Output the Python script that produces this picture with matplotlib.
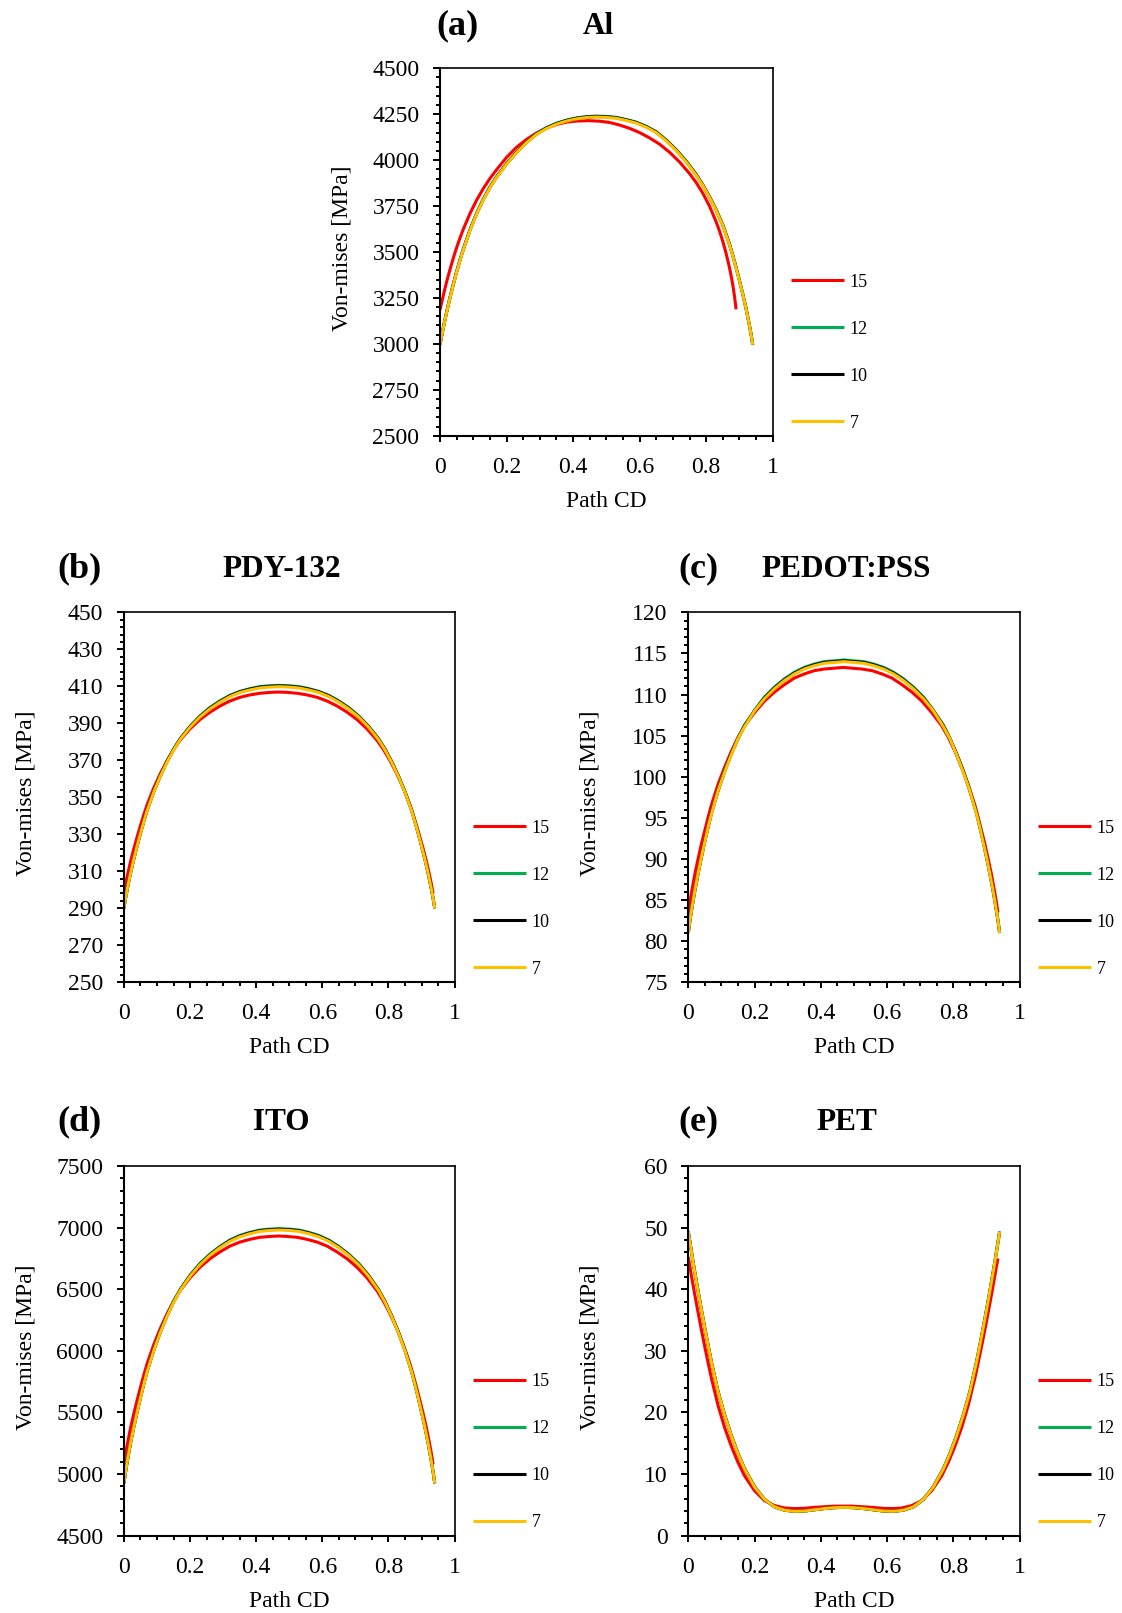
import matplotlib
matplotlib.use("Agg")
import matplotlib.pyplot as plt
from matplotlib.ticker import MultipleLocator, FuncFormatter

plt.rcParams['font.family'] = ['Liberation Serif', 'DejaVu Serif']

# ---------------------------------------------------------------- data
SERIES_LABELS = ['15', '12', '10', '7']
SERIES_COLORS = ['#FF0000', '#00B050', '#000000', '#FFC000']

# positions along path CD
X_FULL = [0, 0.005, 0.01, 0.015, 0.02, 0.03, 0.04, 0.05, 0.06, 0.07, 0.09, 0.11, 0.13, 0.15,
          0.17, 0.20, 0.23, 0.26, 0.29, 0.32, 0.35, 0.38, 0.41, 0.44, 0.47,
          0.50, 0.53, 0.56, 0.59, 0.62, 0.65, 0.68, 0.71, 0.74, 0.77, 0.79, 0.81, 0.83,
          0.85, 0.87, 0.88, 0.89, 0.90, 0.91, 0.92, 0.925, 0.93, 0.935, 0.94]
X_15 = [0, 0.005, 0.01, 0.015, 0.02, 0.03, 0.04, 0.05, 0.06, 0.07, 0.09, 0.11, 0.13, 0.15,
        0.17, 0.20, 0.23, 0.26, 0.29, 0.32, 0.35, 0.38, 0.41, 0.44, 0.4675,
        0.495, 0.525, 0.555, 0.585, 0.615, 0.645, 0.675, 0.705, 0.735, 0.765, 0.785, 0.805,
        0.825, 0.845, 0.865, 0.875, 0.885, 0.895, 0.905, 0.915, 0.92, 0.925, 0.93, 0.935]
AL_X_15 = [0, 0.005, 0.01, 0.015, 0.02, 0.03, 0.04, 0.05, 0.06, 0.07, 0.09, 0.11, 0.13, 0.15,
           0.17, 0.20, 0.23, 0.26, 0.29, 0.32, 0.35, 0.38, 0.41, 0.445,
           0.48, 0.51, 0.54, 0.57, 0.60, 0.63, 0.66, 0.69, 0.72, 0.75, 0.77, 0.79, 0.81,
           0.83, 0.84, 0.85, 0.86, 0.865, 0.87, 0.875, 0.88, 0.885, 0.89]

# (a) Al
AL_15 = [3184, 3225, 3264, 3302, 3338, 3405, 3467, 3524, 3576, 3624, 3709, 3782, 3845, 3900,
         3948, 4015, 4070, 4113, 4148, 4175, 4194, 4207, 4213, 4215,
         4212, 4205, 4191, 4173, 4150, 4121, 4087, 4043, 3990, 3927, 3878, 3820, 3750,
         3664, 3615, 3558, 3492, 3455, 3415, 3371, 3322, 3262, 3188]
AL_12 = [2995, 3043, 3088, 3132, 3174, 3253, 3325, 3393, 3457, 3516, 3621, 3711, 3788, 3854,
         3910, 3982, 4044, 4099, 4144, 4177, 4201, 4218, 4230, 4237, 4240,
         4238, 4233, 4221, 4207, 4184, 4155, 4110, 4057, 3995, 3923, 3866, 3802, 3731,
         3648, 3545, 3482, 3416, 3346, 3272, 3193, 3147, 3101, 3052, 2995]
AL_10 = [2995, 3042, 3088, 3131, 3173, 3252, 3324, 3392, 3455, 3514, 3619, 3709, 3786, 3852,
         3908, 3980, 4042, 4097, 4142, 4175, 4199, 4216, 4228, 4235, 4238,
         4236, 4231, 4219, 4205, 4182, 4153, 4108, 4055, 3993, 3921, 3864, 3800, 3729,
         3646, 3543, 3481, 3415, 3345, 3271, 3192, 3147, 3101, 3052, 2995]
AL_7 = [2995, 3042, 3087, 3130, 3172, 3250, 3322, 3390, 3453, 3512, 3617, 3707, 3784, 3850,
        3906, 3978, 4040, 4095, 4140, 4172, 4196, 4213, 4225, 4232, 4235,
        4233, 4228, 4216, 4202, 4179, 4150, 4105, 4052, 3990, 3918, 3862, 3798, 3727,
        3644, 3541, 3479, 3413, 3343, 3270, 3191, 3146, 3100, 3051, 2995]

# (b) PDY-132
PDY_15 = [298, 302.9, 307.3, 311.3, 315.2, 322.2, 328.6, 334.7, 340.5, 345.9, 355.0, 362.8, 369.7,
          375.8, 380.9, 387.0, 392.0, 396.0, 399.3, 402.0, 404.0, 405.3, 406.2, 406.7, 406.9,
          406.7, 406.2, 405.3, 404.0, 402.0, 399.3, 396.0, 392.0, 387.0, 380.9, 375.8, 369.7,
          362.8, 355.0, 345.9, 340.5, 334.7, 328.6, 322.2, 315.2, 311.3, 307.3, 302.9, 298]
PDY_12 = [290, 295.4, 300.2, 304.7, 309.0, 316.8, 323.9, 330.6, 337.0, 343.0, 353.0, 361.7, 369.3,
          376.0, 381.7, 388.4, 394.0, 398.5, 402.1, 405.1, 407.2, 408.7, 409.8, 410.3, 410.5,
          410.3, 409.8, 408.7, 407.2, 405.1, 402.1, 398.5, 394.0, 388.4, 381.7, 376.0, 369.3,
          361.7, 353.0, 343.0, 337.0, 330.6, 323.9, 316.8, 309.0, 304.7, 300.2, 295.4, 290]
PDY_10 = [290, 295.4, 300.2, 304.7, 309.0, 316.7, 323.8, 330.5, 336.9, 342.9, 352.9, 361.5, 369.1,
          375.8, 381.5, 388.2, 393.7, 398.2, 401.8, 404.8, 407.0, 408.4, 409.5, 410.0, 410.2,
          410.0, 409.5, 408.4, 407.0, 404.8, 401.8, 398.2, 393.7, 388.2, 381.5, 375.8, 369.1,
          361.5, 352.9, 342.9, 336.9, 330.5, 323.8, 316.7, 309.0, 304.7, 300.2, 295.4, 290]
PDY_7 = [290, 295.4, 300.2, 304.6, 308.9, 316.6, 323.7, 330.4, 336.7, 342.7, 352.7, 361.3, 368.8,
         375.5, 381.2, 387.9, 393.4, 397.8, 401.4, 404.4, 406.6, 408.0, 409.1, 409.6, 409.8,
         409.6, 409.1, 408.0, 406.6, 404.4, 401.4, 397.8, 393.4, 387.9, 381.2, 375.5, 368.8,
         361.3, 352.7, 342.7, 336.7, 330.4, 323.7, 316.6, 308.9, 304.6, 300.2, 295.4, 290]

# (c) PEDOT:PSS
PEDOT_15 = [83.5, 84.8, 86.0, 87.1, 88.2, 90.1, 91.9, 93.5, 95.1, 96.6, 99.1, 101.2, 103.1,
            104.8, 106.2, 107.8, 109.2, 110.3, 111.2, 112.0, 112.5, 112.9, 113.1, 113.2, 113.3,
            113.2, 113.1, 112.9, 112.5, 112.0, 111.2, 110.3, 109.2, 107.8, 106.2, 104.8, 103.1,
            101.2, 99.1, 96.6, 95.1, 93.5, 91.9, 90.1, 88.2, 87.1, 86.0, 84.8, 83.5]
PEDOT_12 = [81, 82.5, 83.8, 85.1, 86.2, 88.4, 90.3, 92.2, 94.0, 95.6, 98.4, 100.8, 102.8,
            104.7, 106.3, 108.1, 109.7, 110.9, 111.9, 112.7, 113.3, 113.7, 114.0, 114.1, 114.2,
            114.1, 114.0, 113.7, 113.3, 112.7, 111.9, 110.9, 109.7, 108.1, 106.3, 104.7, 102.8,
            100.8, 98.4, 95.6, 94.0, 92.2, 90.3, 88.4, 86.2, 85.1, 83.8, 82.5, 81]
PEDOT_10 = [81, 82.5, 83.8, 85.0, 86.2, 88.3, 90.3, 92.2, 93.9, 95.6, 98.3, 100.7, 102.8,
            104.6, 106.2, 108.0, 109.6, 110.8, 111.8, 112.6, 113.2, 113.6, 113.9, 114.0, 114.1,
            114.0, 113.9, 113.6, 113.2, 112.6, 111.8, 110.8, 109.6, 108.0, 106.2, 104.6, 102.8,
            100.7, 98.3, 95.6, 93.9, 92.2, 90.3, 88.3, 86.2, 85.0, 83.8, 82.5, 81]
PEDOT_7 = [81, 82.5, 83.8, 85.0, 86.2, 88.3, 90.3, 92.1, 93.9, 95.5, 98.3, 100.6, 102.7,
           104.6, 106.1, 108.0, 109.5, 110.7, 111.7, 112.5, 113.1, 113.5, 113.8, 113.9, 114.0,
           113.9, 113.8, 113.5, 113.1, 112.5, 111.7, 110.7, 109.5, 108.0, 106.1, 104.6, 102.7,
           100.6, 98.3, 95.5, 93.9, 92.1, 90.3, 88.3, 86.2, 85.0, 83.8, 82.5, 81]

# (d) ITO
ITO_15 = [5080, 5163, 5237, 5306, 5373, 5491, 5600, 5704, 5802, 5895, 6049, 6182, 6299,
          6402, 6489, 6593, 6678, 6747, 6802, 6849, 6882, 6904, 6921, 6928, 6932,
          6928, 6921, 6904, 6882, 6849, 6802, 6747, 6678, 6593, 6489, 6402, 6299,
          6182, 6049, 5895, 5802, 5704, 5600, 5491, 5373, 5306, 5237, 5163, 5080]
ITO_12 = [4925, 5018, 5101, 5177, 5252, 5384, 5506, 5622, 5731, 5834, 6006, 6155, 6285,
          6401, 6498, 6614, 6709, 6785, 6847, 6899, 6936, 6961, 6980, 6988, 6992,
          6988, 6980, 6961, 6936, 6899, 6847, 6785, 6709, 6614, 6498, 6401, 6285,
          6155, 6006, 5834, 5731, 5622, 5506, 5384, 5252, 5177, 5101, 5018, 4925]
ITO_10 = [4925, 5018, 5100, 5176, 5251, 5383, 5504, 5620, 5729, 5832, 6003, 6152, 6282,
          6397, 6494, 6610, 6704, 6780, 6842, 6894, 6931, 6956, 6975, 6983, 6987,
          6983, 6975, 6956, 6931, 6894, 6842, 6780, 6704, 6610, 6494, 6397, 6282,
          6152, 6003, 5832, 5729, 5620, 5504, 5383, 5251, 5176, 5100, 5018, 4925]
ITO_7 = [4925, 5017, 5100, 5176, 5250, 5381, 5503, 5618, 5727, 5830, 6000, 6148, 6278,
         6393, 6490, 6605, 6699, 6775, 6837, 6888, 6925, 6950, 6969, 6977, 6981,
         6977, 6969, 6950, 6925, 6888, 6837, 6775, 6699, 6605, 6490, 6393, 6278,
         6148, 6000, 5830, 5727, 5618, 5503, 5381, 5250, 5176, 5100, 5017, 4925]

# (e) PET
PET_15 = [45.2, 43.6, 42.0, 40.5, 39.0, 36.1, 33.3, 30.6, 28.0, 25.5, 21.1, 17.5, 14.5,
          11.9, 9.7, 7.3, 5.7, 4.9, 4.5, 4.4, 4.45, 4.6, 4.7, 4.8, 4.8,
          4.8, 4.7, 4.6, 4.45, 4.4, 4.5, 4.9, 5.7, 7.3, 9.7, 11.9, 14.5,
          17.5, 21.1, 25.5, 28.0, 30.6, 33.3, 36.1, 39.0, 40.5, 42.0, 43.6, 45.0]
PET_12 = [49.4, 47.7, 46.0, 44.3, 42.7, 39.6, 36.6, 33.7, 30.9, 28.2, 23.4, 19.6, 16.3,
          13.4, 10.9, 8.0, 5.9, 4.7, 4.15, 3.95, 4.0, 4.2, 4.4, 4.55, 4.6,
          4.55, 4.4, 4.2, 4.0, 3.95, 4.15, 4.7, 5.9, 8.0, 10.9, 13.4, 16.3,
          19.6, 23.4, 28.2, 30.9, 33.7, 36.6, 39.6, 42.7, 44.3, 46.0, 47.7, 49.4]
PET_10 = [49.3, 47.6, 45.9, 44.2, 42.6, 39.5, 36.5, 33.6, 30.8, 28.1, 23.3, 19.5, 16.2,
          13.3, 10.8, 7.9, 5.9, 4.7, 4.15, 3.95, 4.0, 4.2, 4.4, 4.55, 4.6,
          4.55, 4.4, 4.2, 4.0, 3.95, 4.15, 4.7, 5.9, 7.9, 10.8, 13.3, 16.2,
          19.5, 23.3, 28.1, 30.8, 33.6, 36.5, 39.5, 42.6, 44.2, 45.9, 47.6, 49.3]
PET_7 = [49.3, 47.6, 45.9, 44.2, 42.6, 39.5, 36.5, 33.6, 30.8, 28.1, 23.3, 19.5, 16.2,
         13.3, 10.8, 7.9, 5.9, 4.7, 4.15, 3.95, 4.0, 4.2, 4.4, 4.55, 4.6,
         4.55, 4.4, 4.2, 4.0, 3.95, 4.15, 4.7, 5.9, 7.9, 10.8, 13.3, 16.2,
         19.5, 23.3, 28.1, 30.8, 33.6, 36.5, 39.5, 42.6, 44.2, 45.9, 47.6, 49.3]

PANEL_TAGS = ['(a)', '(b)', '(c)', '(d)', '(e)']
PANEL_TITLES = ['Al', 'PDY-132', 'PEDOT:PSS', 'ITO', 'PET']
Y_LIMITS = [(2500, 4500), (250, 450), (75, 120), (4500, 7500), (0, 60)]
Y_MAJOR = [250, 20, 5, 500, 10]
Y_MINOR = [50, 4, 1, 100, 2]

# ---------------------------------------------------------------- layout
W, H = 1122, 1613
fig = plt.figure(figsize=(W / 100, H / 100), dpi=100)


def px_box(left, top, right, bottom):
    return [left / W, 1 - bottom / H, (right - left) / W, (bottom - top) / H]


AXES_PX = [
    (440.0, 68.3, 772.7, 435.7),
    (123.9, 612.3, 454.6, 982.3),
    (688.3, 612.3, 1019.5, 982.3),
    (123.9, 1166.0, 454.6, 1535.7),
    (688.3, 1166.0, 1019.5, 1535.7),
]
# (tag x, title x, baseline y) in pixels
HEADER_PX = [
    (457.5, 598.0, 34.0),
    (79.5, 281.6, 577.0),
    (698.0, 846.0, 577.0),
    (79.5, 281.4, 1130.0),
    (698.0, 846.5, 1130.0),
]

panel_series = [
    ([AL_X_15, X_FULL, X_FULL, X_FULL], [AL_15, AL_12, AL_10, AL_7]),
    ([X_15, X_FULL, X_FULL, X_FULL], [PDY_15, PDY_12, PDY_10, PDY_7]),
    ([X_15, X_FULL, X_FULL, X_FULL], [PEDOT_15, PEDOT_12, PEDOT_10, PEDOT_7]),
    ([X_15, X_FULL, X_FULL, X_FULL], [ITO_15, ITO_12, ITO_10, ITO_7]),
    ([X_15, X_FULL, X_FULL, X_FULL], [PET_15, PET_12, PET_10, PET_7]),
]

fmt = FuncFormatter(lambda v, _: f"{v:g}")

for i, (xs_list, ys_list) in enumerate(panel_series):
    l, t, r, b = AXES_PX[i]
    ax = fig.add_axes(px_box(l, t, r, b))
    h_px = b - t

    for xs, ys, lab, col in zip(xs_list, ys_list, SERIES_LABELS, SERIES_COLORS):
        ax.plot(xs, ys, color=col, lw=2.2, label=lab,
                solid_joinstyle='round', solid_capstyle='butt')

    y0, y1 = Y_LIMITS[i]
    ax.set_xlim(0, 1)
    ax.set_ylim(y0, y1)
    ax.xaxis.set_major_locator(MultipleLocator(0.2))
    ax.xaxis.set_minor_locator(MultipleLocator(0.05))
    ax.yaxis.set_major_locator(MultipleLocator(Y_MAJOR[i], offset=y0 % Y_MAJOR[i]))
    ax.yaxis.set_minor_locator(MultipleLocator(Y_MINOR[i], offset=y0 % Y_MINOR[i]))
    ax.xaxis.set_major_formatter(fmt)
    ax.yaxis.set_major_formatter(fmt)

    ax.tick_params(axis='both', which='both', direction='out', width=1.4, colors='black',
                   labelsize=17, top=False, right=False)
    ax.tick_params(axis='y', which='major', length=4.8, pad=10)
    ax.tick_params(axis='y', which='minor', length=3.0)
    ax.tick_params(axis='x', which='major', length=4.5, pad=10.5)
    ax.tick_params(axis='x', which='minor', length=2.8)

    for side in ('left', 'bottom'):
        ax.spines[side].set_linewidth(1.5)
    for side in ('top', 'right'):
        ax.spines[side].set_linewidth(1.2)

    ax.set_xlabel('Path CD', fontsize=17)
    ax.xaxis.label.set_va('baseline')
    ax.xaxis.set_label_coords(0.5, -71.0 / h_px)
    ax.set_ylabel('Von-mises [MPa]', fontsize=17)
    ax.yaxis.set_label_coords(-0.2645, 0.51)

    ax.legend(loc='center left', bbox_to_anchor=(1.055, 0.226), frameon=False,
              fontsize=13, handlelength=2.93, handletextpad=0.33,
              labelspacing=1.66, borderpad=0, borderaxespad=0)

    tx, ttx, ty = HEADER_PX[i]
    fig.text(tx / W, 1 - ty / H, PANEL_TAGS[i], fontsize=26, fontweight='bold',
             ha='center', va='baseline')
    fig.text(ttx / W, 1 - ty / H, PANEL_TITLES[i], fontsize=22.5, fontweight='bold',
             ha='center', va='baseline')

fig.savefig('out.png', dpi=100, facecolor='white')
